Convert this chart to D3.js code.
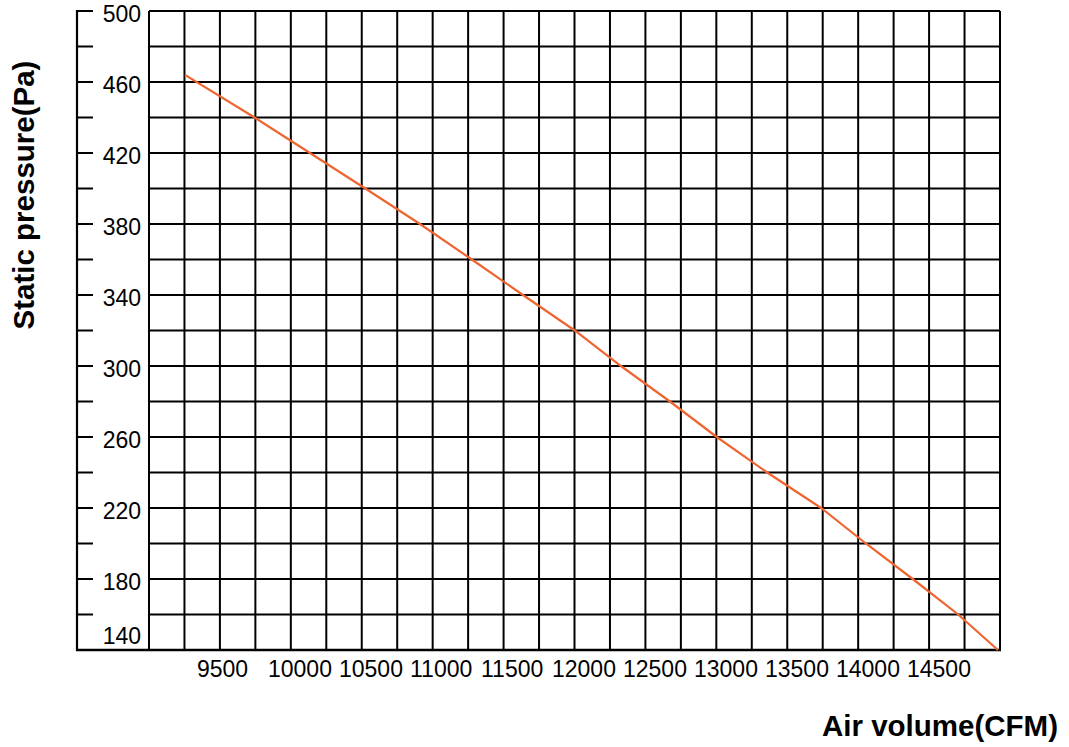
<!DOCTYPE html>
<html>
<head>
<meta charset="utf-8">
<script src="https://cdn.jsdelivr.net/npm/d3@7/dist/d3.min.js"></script>
<style>
  html, body { margin: 0; padding: 0; background: #fff; }
  svg { display: block; }
  text { font-family: "Liberation Sans", Arial, sans-serif; fill: #000; }
</style>
</head>
<body>
<svg id="chart" width="1069" height="747"></svg>
<script>
// ---- data ----
const airVolume = [9190, 9680, 10070, 10460, 10845, 11210, 11570, 11935, 12260, 12605, 12935, 13290, 13670, 13985, 14315, 14635, 14915];
const staticPressure = [464, 440, 420, 400, 380, 360, 340, 320, 300, 280, 260, 240, 220, 200, 180, 160, 140];
const xTickLabels = [9500, 10000, 10500, 11000, 11500, 12000, 12500, 13000, 13500, 14000, 14500];
const yTickLabels = [140, 180, 220, 260, 300, 340, 380, 420, 460, 500];
const yMinorTicks = d3.range(140, 501, 20);
const gridColumns = 24;
const xTitle = "Air volume(CFM)";
const yTitle = "Static pressure(Pa)";

// ---- layout ----
const svg = d3.select("#chart");
const axisX = 77, gridLeft = 149, gridRight = 1000, plotTop = 11, plotBottom = 650;

const y = d3.scaleLinear().domain([140, 500]).range([plotBottom, plotTop]);
const x = d3.scaleLinear().domain([9500, 14500]).range([229, 939]);
const gx = d3.scaleLinear().domain([0, gridColumns]).range([gridLeft, gridRight]);

const g = svg.append("g");

// horizontal grid lines
g.selectAll("line.h").data(yMinorTicks).enter().append("line")
  .attr("x1", gridLeft).attr("x2", gridRight)
  .attr("y1", d => y(d)).attr("y2", d => y(d))
  .attr("stroke", "#000").attr("stroke-width", 2);

// vertical grid lines
g.selectAll("line.v").data(d3.range(gridColumns + 1)).enter().append("line")
  .attr("x1", d => gx(d)).attr("x2", d => gx(d))
  .attr("y1", plotTop).attr("y2", plotBottom)
  .attr("stroke", "#000").attr("stroke-width", 2);

// y axis line and ticks
g.append("line").attr("x1", axisX).attr("x2", axisX).attr("y1", plotTop - 1).attr("y2", plotBottom + 1)
  .attr("stroke", "#000").attr("stroke-width", 2.2);
g.selectAll("line.yt").data(yMinorTicks.filter(d => d > 140)).enter().append("line")
  .attr("x1", axisX).attr("x2", axisX + 16)
  .attr("y1", d => y(d)).attr("y2", d => y(d))
  .attr("stroke", "#000").attr("stroke-width", 2);

// bottom axis line
g.append("line").attr("x1", axisX - 1).attr("x2", gridRight + 1).attr("y1", plotBottom).attr("y2", plotBottom)
  .attr("stroke", "#000").attr("stroke-width", 2.4);

// y tick labels
g.selectAll("text.yl").data(yTickLabels).enter().append("text")
  .attr("x", 141)
  .attr("y", d => y(d) + (d === 140 ? -14 : 3))
  .attr("dy", "0.35em")
  .attr("text-anchor", "end")
  .attr("font-size", 23)
  .text(d => d);

// x tick labels
g.selectAll("text.xl").data(xTickLabels).enter().append("text")
  .attr("x", d => x(d) - 32)
  .attr("y", 677)
  .attr("text-anchor", "start")
  .attr("font-size", 23)
  .text(d => d);

// curve
const line = d3.line().x(d => x(d[0])).y(d => y(d[1]));
g.append("path")
  .datum(airVolume.map((v, i) => [v, staticPressure[i]]))
  .attr("d", line)
  .attr("fill", "none")
  .attr("stroke", "#ef6530")
  .attr("stroke-width", 2.2);

// titles
g.append("text")
  .attr("transform", "translate(34,195) rotate(-90)")
  .attr("text-anchor", "middle")
  .attr("font-size", 29.5)
  .attr("font-weight", "bold")
  .text(yTitle);

g.append("text")
  .attr("x", 1058).attr("y", 736)
  .attr("text-anchor", "end")
  .attr("font-size", 29.5)
  .attr("font-weight", "bold")
  .text(xTitle);
</script>
</body>
</html>
